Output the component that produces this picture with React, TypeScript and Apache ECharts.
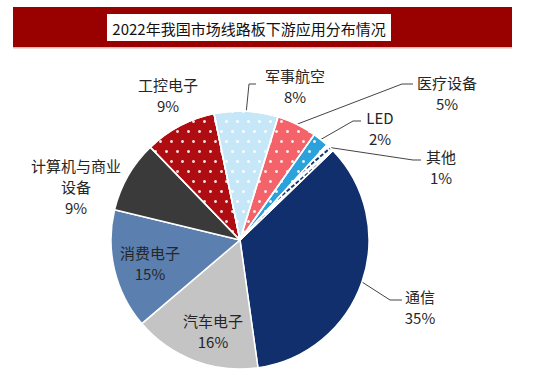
import React, { useEffect, useRef } from 'react';
import * as echarts from 'echarts';

const titleText = '2022年我国市场线路板下游应用分布情况';
const categories = ['通信', '汽车电子', '消费电子', '计算机与商业\n设备', '工控电子', '军事航空', '医疗设备', 'LED', '其他'];
const shares = [35, 16, 15, 9, 9, 8, 5, 2, 1];

const sliceColors = ['#112f6c', '#c4c4c4', '#5b7fae', '#3a3a3a', '#b00d13', '#c6e7f7', '#f4636a', '#2ca2dc', '#ffffff'];

const dots = (c: string) => ({
  symbol: 'circle',
  symbolSize: 1,
  color: c,
  dashArrayX: [[2.5, 7.5], [0, 5, 2.5, 2.5]],
  dashArrayY: [2.5, 7],
});

const sliceDecals: any[] = [
  null,
  null,
  null,
  null,
  dots('rgba(255,255,255,0.85)'),
  dots('rgba(255,255,255,0.9)'),
  dots('rgba(255,255,255,0.85)'),
  dots('rgba(255,255,255,0.85)'),
  { symbol: 'rect', symbolSize: 1, color: '#123570', dashArrayX: [4, 2], dashArrayY: [2, 3], rotation: -0.7 },
];

// label block centres and leader-line elbows (layout only)
const labelPlaces: { x: number; y: number; line?: number[][] }[] = [
  { x: 420, y: 307, line: [[390, 300], [402, 300]] },
  { x: 213, y: 331 },
  { x: 150, y: 263 },
  { x: 76, y: 186 },
  { x: 168, y: 95 },
  { x: 295, y: 86, line: [[249, 84], [256, 84]] },
  { x: 447, y: 93, line: [[402, 84], [413, 84]] },
  { x: 380, y: 128, line: [[353, 121], [361, 121]] },
  { x: 441, y: 167, line: [[413, 160], [421, 160]] },
];

export default function App() {
  const ref = useRef<HTMLDivElement>(null);
  useEffect(() => {
    if (!ref.current) return;
    const chart = echarts.init(ref.current, undefined, { renderer: 'svg' });
    const data = categories.map((name, i) => ({
      name,
      value: shares[i],
      itemStyle: { color: sliceColors[i], decal: sliceDecals[i] || undefined },
      labelLine: { show: !!labelPlaces[i].line },
    }));
    chart.setOption({
      animation: false,
      backgroundColor: '#ffffff',
      graphic: [
        { type: 'rect', shape: { x: 13, y: 7, width: 499, height: 40 }, style: { fill: '#990000' } },
        { type: 'rect', shape: { x: 13, y: 47, width: 499, height: 1.5 }, style: { fill: '#e2b4b4' } },
        { type: 'rect', shape: { x: 107, y: 14, width: 284, height: 27 }, style: { fill: '#ffffff' } },
        {
          type: 'text',
          x: 249,
          y: 28,
          style: {
            text: titleText,
            fill: '#111111',
            font: '15px "Noto Sans CJK SC"',
            align: 'center',
            verticalAlign: 'middle',
          },
        },
      ],
      series: [
        {
          type: 'pie',
          center: [240, 240],
          radius: 129,
          startAngle: 44,
          clockwise: true,
          avoidLabelOverlap: false,
          data,
          itemStyle: { borderColor: '#ffffff', borderWidth: 1.5 },
          label: {
            show: true,
            position: 'outside',
            formatter: (p: any) => `${p.name}\n${p.value}%`,
            fontFamily: '"Noto Sans CJK SC"',
            fontSize: 15,
            lineHeight: 21,
            color: '#262626',
            align: 'center',
          },
          labelLine: { show: true, length: 10, length2: 10, lineStyle: { color: '#444444', width: 1 } },
          labelLayout: (params: any) => {
            const place = labelPlaces[params.dataIndex];
            const out: any = { x: place.x, y: place.y, align: 'center', verticalAlign: 'middle', hideOverlap: false };
            if (place.line && params.labelLinePoints) {
              const p0 = params.labelLinePoints[0];
              out.labelLinePoints = [[p0[0], p0[1]], place.line[0], place.line[1]];
            }
            return out;
          },
        },
      ],
    });
    return () => chart.dispose();
  }, []);
  return <div ref={ref} style={{ position: 'fixed', left: 0, top: 0, width: 550, height: 387 }} />;
}
